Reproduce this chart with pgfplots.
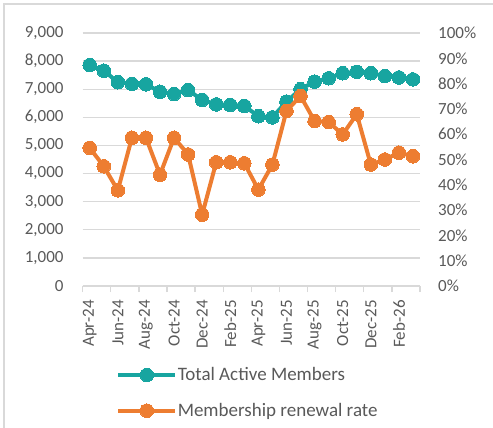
\documentclass[border=0pt]{standalone}
\usepackage{pgfplots}
\pgfplotsset{compat=1.18}
\usepackage{fontspec}
\setmainfont{Carlito}

\definecolor{tealc}{RGB}{23,165,160}
\definecolor{orangec}{RGB}{237,125,49}
\definecolor{gridc}{RGB}{217,217,217}
\definecolor{labc}{RGB}{89,89,89}

% monthly values, Apr-24 .. Mar-26
\pgfplotstableread{
m members rate
0  7860 54.6
1  7660 47.3
2  7250 37.8
3  7190 58.6
4  7175 58.6
5  6910 44.0
6  6830 58.6
7  6970 52.0
8  6620 28.2
9  6460 48.9
10 6440 48.9
11 6405 48.5
12 6040 38.1
13 6000 48.0
14 6560 69.2
15 7000 75.1
16 7270 65.2
17 7390 64.8
18 7570 59.9
19 7620 67.9
20 7570 48.0
21 7470 50.0
22 7420 52.7
23 7350 51.3
}\datatable

\pgfplotsset{
  base/.style={
    scale only axis, width=337.3pt, height=253pt,
    xmin=-0.5, xmax=23.5, ymin=0, clip=false,
    /pgf/number format/assume math mode=true,
    tick label style={font=\fontsize{17}{20}\selectfont, text=labc},
    major tick length=0pt,
  },
  tealline/.style={color=tealc, line width=4pt, line join=round,
    mark=*, mark size=6.8pt, mark options={solid, fill=tealc, draw=tealc, line width=0pt}},
  orangeline/.style={color=orangec, line width=4pt, line join=round,
    mark=*, mark size=6.8pt, mark options={solid, fill=orangec, draw=orangec, line width=0pt}},
}

\begin{document}
\begin{tikzpicture}
\path[use as bounding box] (-82.7pt,-142pt) rectangle (410.3pt,286pt);
\draw[gridc, line width=1.5pt] (-78.7pt,-142pt) -- (-78.7pt,282pt) -- (410.3pt,282pt);

\begin{axis}[base,
  ymax=9000,
  axis x line*=bottom, axis y line*=left,
  x axis line style={-, gridc, line width=1.3pt},
  y axis line style={draw=none},
  xtick={0,2,...,22},
  xticklabels={Apr-24,Jun-24,Aug-24,Oct-24,Dec-24,Feb-25,Apr-25,Jun-25,Aug-25,Oct-25,Dec-25,Feb-26},
  x tick label style={rotate=90, anchor=east, inner sep=0pt},
  xticklabel shift=14pt,
  minor xtick={-0.5,1.5,...,23.5},
  minor tick length=6pt,
  minor tick style={gridc, line width=1.3pt},
  tick align=outside,
  ytick={0,1000,...,9000},
  scaled y ticks=false,
  /pgf/number format/1000 sep={,},
  yticklabel style={anchor=east, inner sep=0pt},
  yticklabel shift=19pt,
  ymajorgrids,
  grid style={gridc, line width=1.3pt},
  legend image code/.code={\draw[mark repeat=2,mark phase=2,#1] plot coordinates {(0pt,0pt)(28.5pt,0pt)(57pt,0pt)};},
  legend style={at={(0.099,-0.318)}, anchor=north west, draw=none, fill=none,
    inner sep=0pt, row sep=19pt, font=\fontsize{19}{22}\selectfont, text=labc,
    cells={anchor=west}, nodes={inner xsep=0.5pt, inner ysep=1pt}},
]
\addplot[tealline] table[x=m, y=members] {\datatable};
\addlegendentry{Total Active Members}
\addlegendimage{orangeline}
\addlegendentry{Membership renewal rate}
\end{axis}

\begin{axis}[base,
  ymax=100,
  axis x line=none, axis y line*=right,
  y axis line style={draw=none},
  ytick={0,10,...,100},
  yticklabel={\pgfmathprintnumber[assume math mode=true]{\tick}\%},
  yticklabel style={anchor=west, inner sep=0pt},
  yticklabel shift=18pt,
]
\addplot[orangeline] table[x=m, y=rate] {\datatable};
\end{axis}
\end{tikzpicture}
\end{document}
